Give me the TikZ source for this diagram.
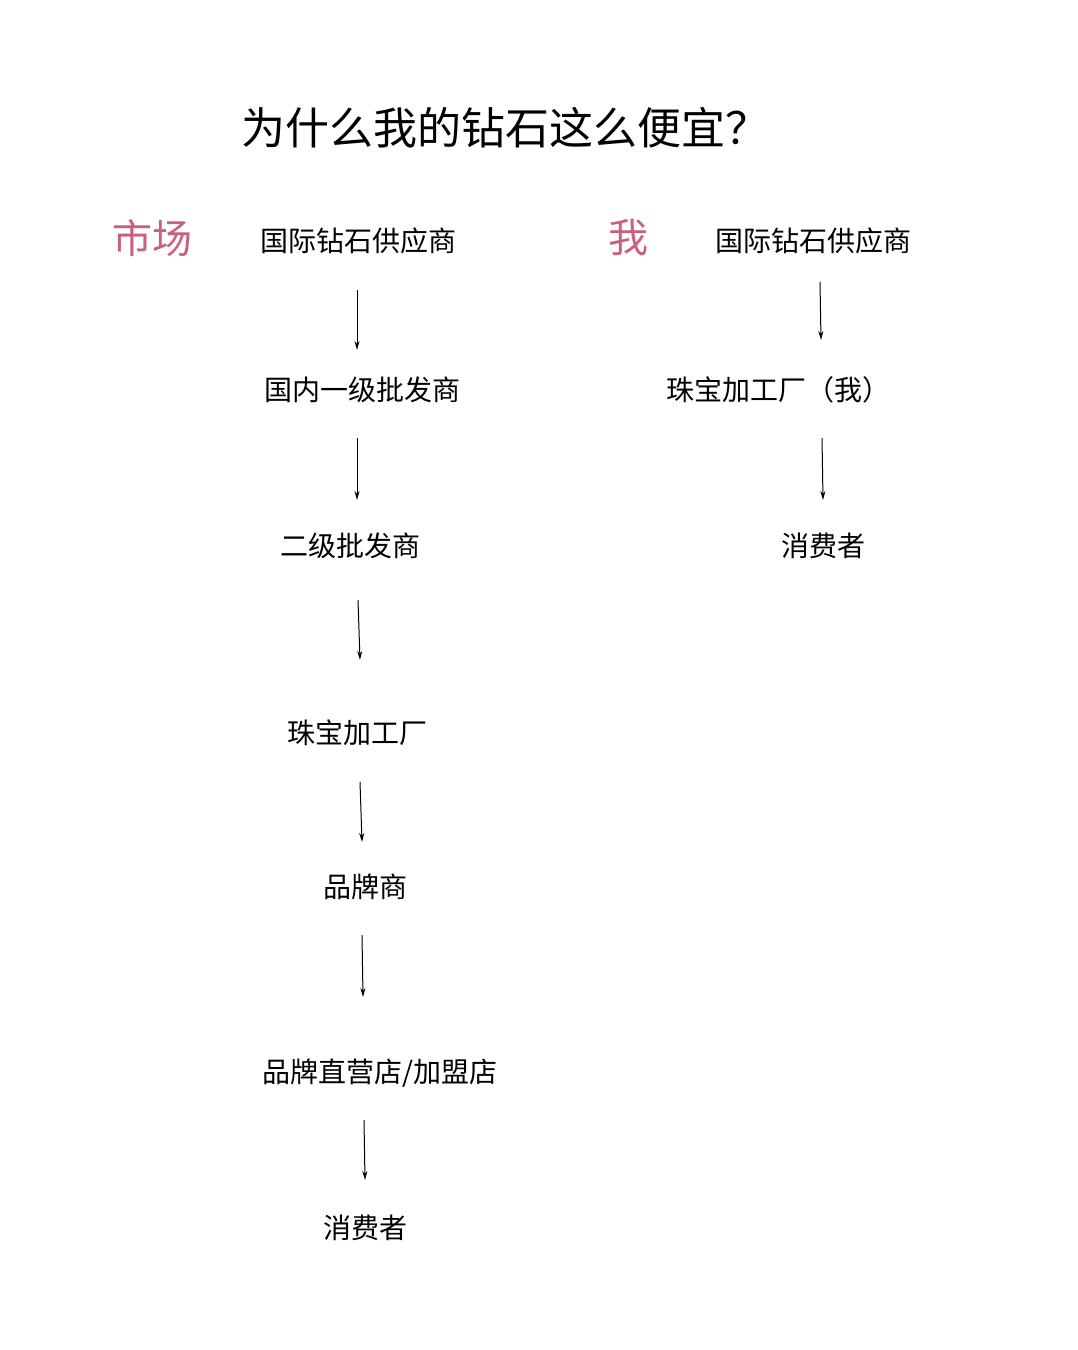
\documentclass[tikz,border=0pt]{standalone}
\usepackage{fontspec}
\usetikzlibrary{arrows.meta}
\newfontfamily\cjk{Noto Sans CJK SC}
\begin{document}
\begin{tikzpicture}[x=1pt,y=-1pt,
  lbl/.style={font=\cjk\fontsize{28}{30}\selectfont,inner sep=0pt},
  big/.style={font=\cjk\fontsize{40}{42}\selectfont,text=pinkc,inner sep=0pt},
  arr/.style={-{Stealth[length=9pt,width=5pt]},line width=1pt}]
\definecolor{pinkc}{HTML}{C8607E}
\useasboundingbox[fill=white] (0,0) rectangle (1078,1350);
\node[font=\cjk\fontsize{44}{46}\selectfont,inner sep=0pt] (title) at (505,128) {为什么我的钻石这么便宜？};
\node[big] (m) at (152,238) {市场};
\node[big] (w) at (628,238) {我};
\node[lbl] (a1) at (358,241) {国际钻石供应商};
\node[lbl] (a2) at (362,390) {国内一级批发商};
\node[lbl] (a3) at (350,546) {二级批发商};
\node[lbl] (a4) at (357,733) {珠宝加工厂};
\node[lbl] (a5) at (365,887) {品牌商};
\node[lbl] (a6) at (380,1073) {品牌直营店/加盟店};
\node[lbl] (a7) at (365,1228) {消费者};
\node[lbl] (b1) at (813,241) {国际钻石供应商};
\node[lbl] (b2) at (778,390) {珠宝加工厂（我）};
\node[lbl] (b3) at (823,546) {消费者};
\foreach \n/\xa/\ya/\xb/\yb in {p1/357/290/357/350,p2/357/438/357/500,p3/358/600/360/660,p4/360/782/362/842,p5/362/935/363/997,p6/364/1120/365/1180,q1/820/282/821/340,q2/822/438/823/500}{
  \coordinate (\n s) at (\xa,\ya);
  \coordinate (\n e) at (\xb,\yb);
  \draw[arr] (\n s) -- (\n e);
}
\end{tikzpicture}
\end{document}
